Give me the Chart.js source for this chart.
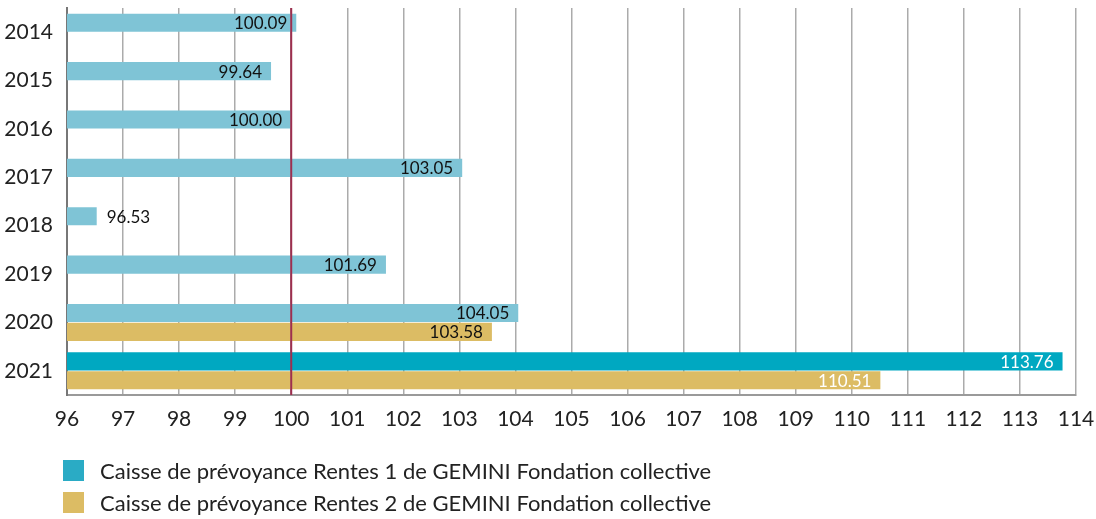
<!DOCTYPE html>
<html>
<head>
<meta charset="utf-8">
<script src="https://cdn.jsdelivr.net/npm/chart.js@4"></script>
<style>
html,body{margin:0;padding:0;background:#fff;}
#wrap{position:relative;width:1096px;height:519px;}
#legend{position:absolute;left:63px;top:454px;font-family:Lato,"Open Sans",sans-serif;font-size:22px;color:#222;}
.item{display:flex;align-items:center;height:32px;}
.box{width:21px;height:21px;margin-right:16px;}
</style>
</head>
<body>
<div id="wrap">
<canvas id="c" width="1096" height="519"></canvas>
<div id="legend"></div>
</div>
<script>
const years = ["2014","2015","2016","2017","2018","2019","2020","2021"];
const seriesNames = ["Caisse de prévoyance Rentes 1 de GEMINI Fondation collective",
                     "Caisse de prévoyance Rentes 2 de GEMINI Fondation collective"];
const rentes1 = [100.09, 99.64, 100.00, 103.05, 96.53, 101.69, 104.05, 113.76];
const rentes2 = [null, null, null, null, null, null, 103.58, 110.51];
const xTicksMin = 96;
const xTicksMax = 114;
const referenceValue = 100;

// styles
const lightBlue = "#7fc4d6", teal = "#00a8c1", gold = "#dcbc64";
const r1Colors = years.map((y, i) => i === years.length - 1 ? teal : lightBlue);
const r1LabelColors = years.map((y, i) => i === years.length - 1 ? "#ffffff" : "#111111");
const r2LabelColors = years.map((y, i) => i === years.length - 1 ? "#ffffff" : "#111111");
const FONT = 'Lato, "Open Sans", sans-serif';

const valueLabels = {
  id: "valueLabels",
  afterDatasetsDraw(chart) {
    const ctx = chart.ctx;
    ctx.save();
    ctx.font = "17px " + FONT;
    ctx.textBaseline = "middle";
    chart.data.datasets.forEach((ds, di) => {
      const meta = chart.getDatasetMeta(di);
      meta.data.forEach((el, i) => {
        const v = ds.data[i];
        if (v === null || v === undefined) return;
        const txt = v.toFixed(2);
        const w = ctx.measureText(txt).width;
        const start = Math.max(el.base, chart.chartArea.left);
        const len = el.x - start;
        if (w + 16 > len) {
          ctx.textAlign = "left";
          ctx.fillStyle = "#111";
          ctx.fillText(txt, el.x + 10, el.y + 1);
        } else {
          ctx.textAlign = "right";
          ctx.fillStyle = ds.labelColors[i];
          ctx.fillText(txt, el.x - 9, el.y + 1);
        }
      });
    });
    ctx.restore();
  }
};

const refLine = {
  id: "refLine",
  afterDatasetsDraw(chart) {
    const ctx = chart.ctx, a = chart.chartArea;
    const x = chart.scales.x.getPixelForValue(referenceValue);
    ctx.save();
    ctx.strokeStyle = "#9e2f4f";
    ctx.lineWidth = 2;
    ctx.beginPath();
    ctx.moveTo(x, a.top);
    ctx.lineTo(x, a.bottom);
    ctx.stroke();
    ctx.restore();
  }
};

new Chart(document.getElementById("c"), {
  type: "bar",
  data: {
    labels: years,
    datasets: [
      { label: seriesNames[0], data: rentes1, backgroundColor: r1Colors, labelColors: r1LabelColors,
        categoryPercentage: 0.78, barPercentage: 0.96 },
      { label: seriesNames[1], data: rentes2, backgroundColor: gold, labelColors: r2LabelColors,
        categoryPercentage: 0.78, barPercentage: 0.96 }
    ]
  },
  options: {
    indexAxis: "y",
    responsive: false,
    animation: false,
    layout: { padding: { top: 8, right: 20, bottom: 84, left: 0 } },
    plugins: { legend: { display: false }, tooltip: { enabled: false } },
    scales: {
      x: {
        type: "linear",
        min: xTicksMin, max: xTicksMax,
        ticks: { stepSize: 1, color: "#222", font: { family: FONT, size: 21 }, padding: 12 },
        grid: { color: "#ababab", lineWidth: 1.5, drawTicks: false },
        border: { display: true, color: "#9a9a9a", width: 2 },
        afterFit(s) { s.height = 40; s.paddingLeft = 0; s.paddingRight = 0; }
      },
      y: {
        ticks: { color: "#222", font: { family: FONT, size: 21 }, padding: 14 },
        grid: { display: false, drawTicks: false },
        border: { display: true, color: "#777", width: 2 },
        afterFit(s) { s.width = 67; s.paddingTop = 0; s.paddingBottom = 0; }
      }
    }
  },
  plugins: [valueLabels, refLine]
});

const legendColors = ["#2aabc5", gold];
const lg = document.getElementById("legend");
seriesNames.forEach((n, i) => {
  const it = document.createElement("div");
  it.className = "item";
  const b = document.createElement("span");
  b.className = "box";
  b.style.background = legendColors[i];
  const t = document.createElement("span");
  t.textContent = n;
  it.appendChild(b); it.appendChild(t);
  lg.appendChild(it);
});
</script>
</body>
</html>
